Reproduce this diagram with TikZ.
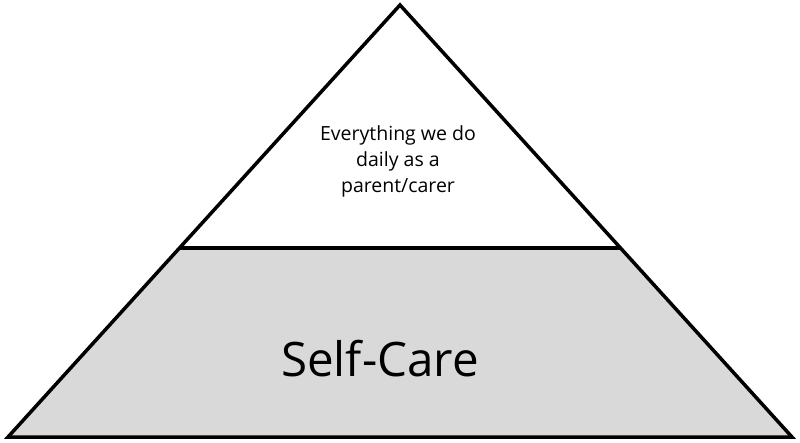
\documentclass[tikz,border=0pt]{standalone}
\usepackage{fontspec}
\setmainfont{Open Sans}
\usetikzlibrary{calc}
\definecolor{carefill}{HTML}{D9D9D9}
\begin{document}
\begin{tikzpicture}[x=1pt,y=-1pt,line width=3.5pt,line join=miter]
 \useasboundingbox (0,0) rectangle (800,442);
 \coordinate (Top) at (400,5);
 \coordinate (BL) at (8,437);
 \coordinate (BR) at (792,437);
 \coordinate (ML) at ($(BL)!0.437!(Top)$);
 \coordinate (MR) at ($(BR)!0.437!(Top)$);
 \fill[carefill] (BL)--(BR)--(MR)--(ML)--cycle;
 \draw (Top)--(BL)--(BR)--cycle;
 \draw (ML)--(MR);
 \node[align=center,font=\fontsize{19.5}{26}\selectfont] (daily) at (398,161)
  {Everything we do\\daily as a\\parent/carer};
 \node[font=\fontsize{47.5}{55}\selectfont] (self) at (380,359) {Self-Care};
\end{tikzpicture}
\end{document}
